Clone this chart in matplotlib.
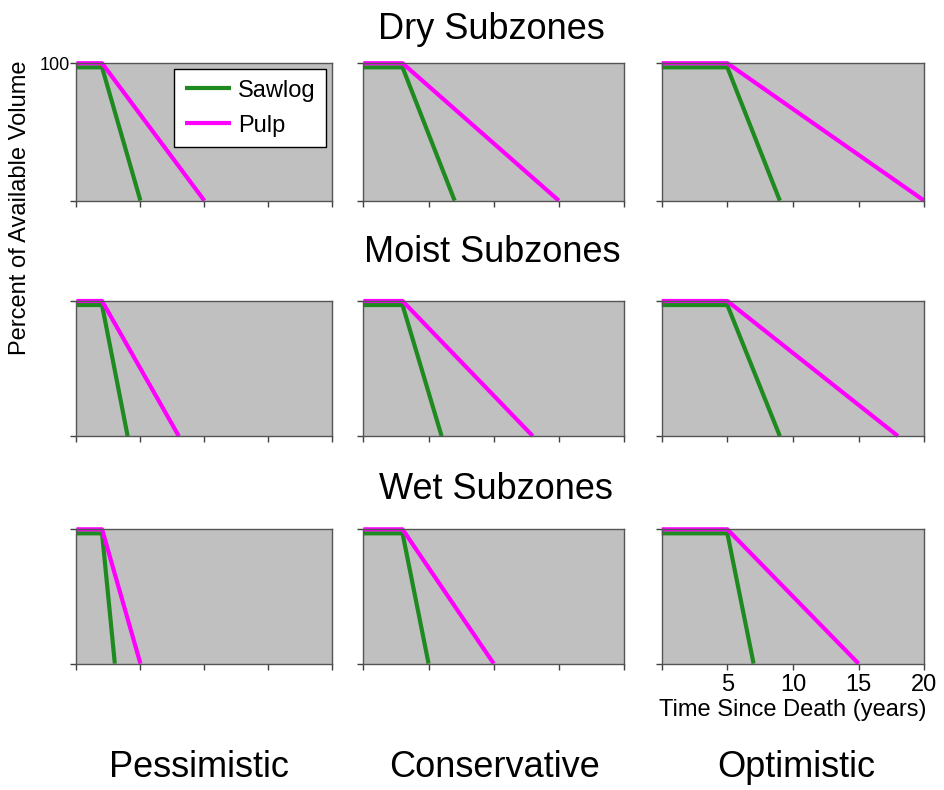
import numpy as np
import matplotlib
matplotlib.use('Agg')
import matplotlib.pyplot as plt

plt.rcParams['font.family'] = ['Liberation Sans', 'DejaVu Sans']

subzones = ['Dry Subzones', 'Moist Subzones', 'Wet Subzones']
scenarios = ['Pessimistic', 'Conservative', 'Optimistic']

# years since death: when decline starts, when sawlog / pulp reach 0
decline_start = [[2, 3, 5], [2, 3, 5], [2, 3, 5]]
sawlog_zero = [[5, 7, 9], [4, 6, 9], [3, 5, 7]]
pulp_zero = [[10, 15, 20], [8, 13, 18], [5, 10, 15]]
sawlog_top = 97
pulp_top = 100

x_ticks = [0, 5, 10, 15, 20]
x_ticklabels = ['', '5', '10', '15', '20']

green = '#1f8a1f'
pink = '#ff00ff'

fig = plt.figure(figsize=(9.44, 7.9), dpi=100)

lefts = [0.081, 0.385, 0.701]
widths = [0.271, 0.276, 0.278]
bottoms = [0.746, 0.448, 0.160]
heights = [0.174, 0.171, 0.170]

for r in range(3):
    for c in range(3):
        ax = fig.add_axes([lefts[c], bottoms[r], widths[c], heights[r]])
        ax.set_facecolor('#c0c0c0')
        s = decline_start[r][c]
        ax.plot([0, s, sawlog_zero[r][c]], [sawlog_top, sawlog_top, 0],
                color=green, lw=3, clip_on=False, label='Sawlog', solid_capstyle='butt')
        ax.plot([0, s, pulp_zero[r][c]], [pulp_top, pulp_top, 0],
                color=pink, lw=3, clip_on=False, label='Pulp', solid_capstyle='butt')
        ax.set_xlim(0, 20)
        ax.set_ylim(0, 100)
        ax.set_xticks(x_ticks)
        ax.set_yticks([0, 100])
        ax.tick_params(direction='out', length=4, width=1, color='#404040')
        for sp in ax.spines.values():
            sp.set_color('#555555')
            sp.set_linewidth(1)
        if r == 2 and c == 2:
            ax.set_xticklabels(x_ticklabels, fontsize=17)
            ax.set_xlabel('Time Since Death (years)', fontsize=17, labelpad=2)
        else:
            ax.set_xticklabels([])
        if r == 0 and c == 0:
            ax.set_yticklabels(['', '100'], fontsize=13)
            ax.tick_params(axis='y', pad=1)
            leg = ax.legend(loc='upper right', fontsize=17, frameon=True,
                            fancybox=False, edgecolor='black', framealpha=1,
                            handlelength=1.95, handletextpad=0.3,
                            borderaxespad=0.25, borderpad=0.45,
                            labelspacing=0.55)
            leg.get_frame().set_linewidth(1)
        else:
            ax.set_yticklabels([])

fig.text(0.520, 0.963, subzones[0], fontsize=26, ha='center', va='center')
fig.text(0.521, 0.680, subzones[1], fontsize=26, ha='center', va='center')
fig.text(0.525, 0.380, subzones[2], fontsize=26, ha='center', va='center')

for x, name in zip([0.211, 0.524, 0.844], scenarios):
    fig.text(x, 0.028, name, fontsize=26, ha='center', va='center')

fig.text(0.021, 0.737, 'Percent of Available Volume', fontsize=17,
         rotation=90, ha='center', va='center')

fig.savefig('out.png', dpi=100)
